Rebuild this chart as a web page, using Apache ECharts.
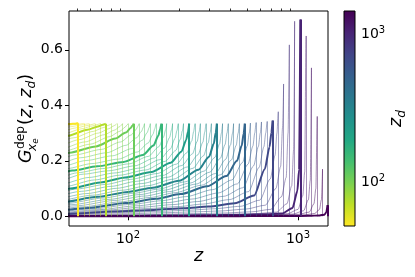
<!DOCTYPE html>
<html><head><meta charset="utf-8">
<script src="https://cdn.jsdelivr.net/npm/echarts@6/dist/echarts.min.js"></script>
<style>html,body{margin:0;padding:0;background:#fff}#c{width:415px;height:277px}</style>
</head><body><div id="c"></div>
<script>
// z_d of each curve (read from the positions of the vertical drops)
const zdValues = [51, 55, 59, 64, 69, 74, 80, 86, 93, 100, 108, 116, 125, 135, 146, 157, 169, 183, 197, 212,
  229, 247, 266, 287, 309, 333, 360, 388, 418, 451, 486, 524, 565, 609, 656, 708, 763, 823, 887, 956,
  1031, 1111, 1198, 1292, 1393, 1490];
// z / z_d at which each curve value is given
const ratioColumns = [0.025, 0.06, 0.12, 0.2, 0.3, 0.42, 0.6, 0.78, 0.9, 0.96, 0.985, 1.0];
// G values, one row per curve, one column per ratio (last column = peak at z = z_d)
const gRows = [
  [0.06, 0.10, 0.16, 0.22, 0.27, 0.30, 0.322, 0.331, 0.333, 0.334, 0.335, 0.335],
  [0.056, 0.094, 0.152, 0.21, 0.259, 0.29, 0.316, 0.327, 0.331, 0.333, 0.334, 0.335],
  [0.052, 0.088, 0.144, 0.2, 0.248, 0.28, 0.309, 0.323, 0.329, 0.332, 0.333, 0.334],
  [0.048, 0.082, 0.136, 0.19, 0.237, 0.27, 0.302, 0.319, 0.327, 0.331, 0.333, 0.334],
  [0.045, 0.076, 0.128, 0.18, 0.226, 0.26, 0.296, 0.316, 0.326, 0.331, 0.333, 0.334],
  [0.042, 0.07, 0.12, 0.17, 0.215, 0.255, 0.29, 0.312, 0.324, 0.33, 0.332, 0.334],
  [0.039, 0.066, 0.114, 0.163, 0.208, 0.25, 0.283, 0.306, 0.32, 0.328, 0.331, 0.334],
  [0.037, 0.062, 0.108, 0.156, 0.201, 0.245, 0.276, 0.3, 0.316, 0.326, 0.33, 0.334],
  [0.035, 0.058, 0.102, 0.149, 0.194, 0.24, 0.268, 0.294, 0.311, 0.323, 0.329, 0.334],
  [0.032, 0.054, 0.096, 0.142, 0.187, 0.235, 0.26, 0.287, 0.307, 0.321, 0.328, 0.334],
  [0.03, 0.05, 0.09, 0.135, 0.18, 0.229, 0.252, 0.28, 0.302, 0.318, 0.327, 0.334],
  [0.028, 0.046, 0.088, 0.14, 0.19, 0.221, 0.241, 0.268, 0.293, 0.312, 0.324, 0.334],
  [0.025, 0.042, 0.085, 0.142, 0.186, 0.211, 0.229, 0.256, 0.283, 0.306, 0.321, 0.334],
  [0.023, 0.038, 0.08, 0.14, 0.179, 0.201, 0.218, 0.244, 0.274, 0.301, 0.319, 0.334],
  [0.02, 0.034, 0.075, 0.135, 0.172, 0.19, 0.206, 0.232, 0.264, 0.295, 0.316, 0.334],
  [0.018, 0.03, 0.07, 0.13, 0.165, 0.18, 0.196, 0.221, 0.255, 0.29, 0.314, 0.334],
  [0.017, 0.028, 0.066, 0.124, 0.157, 0.172, 0.189, 0.216, 0.251, 0.287, 0.312, 0.334],
  [0.016, 0.027, 0.064, 0.122, 0.152, 0.164, 0.182, 0.21, 0.247, 0.284, 0.311, 0.334],
  [0.015, 0.026, 0.062, 0.114, 0.14, 0.156, 0.174, 0.204, 0.242, 0.281, 0.309, 0.334],
  [0.015, 0.026, 0.061, 0.107, 0.131, 0.148, 0.167, 0.198, 0.237, 0.278, 0.308, 0.334],
  [0.014, 0.025, 0.06, 0.1, 0.122, 0.14, 0.16, 0.193, 0.233, 0.275, 0.306, 0.334],
  [0.013, 0.024, 0.06, 0.098, 0.115, 0.133, 0.154, 0.188, 0.229, 0.272, 0.305, 0.334],
  [0.012, 0.023, 0.062, 0.09, 0.108, 0.126, 0.147, 0.183, 0.225, 0.27, 0.304, 0.334],
  [0.011, 0.022, 0.058, 0.082, 0.101, 0.118, 0.141, 0.178, 0.222, 0.267, 0.303, 0.334],
  [0.01, 0.02, 0.054, 0.076, 0.094, 0.11, 0.134, 0.173, 0.218, 0.265, 0.302, 0.334],
  [0.009, 0.018, 0.05, 0.07, 0.088, 0.103, 0.128, 0.168, 0.215, 0.262, 0.301, 0.334],
  [0.008, 0.017, 0.046, 0.066, 0.083, 0.098, 0.124, 0.163, 0.212, 0.261, 0.3, 0.334],
  [0.0075, 0.016, 0.042, 0.061, 0.078, 0.094, 0.12, 0.159, 0.209, 0.259, 0.3, 0.334],
  [0.007, 0.015, 0.038, 0.057, 0.073, 0.089, 0.116, 0.154, 0.206, 0.258, 0.299, 0.334],
  [0.0065, 0.013, 0.034, 0.052, 0.068, 0.085, 0.112, 0.15, 0.203, 0.256, 0.299, 0.334],
  [0.006, 0.012, 0.03, 0.048, 0.063, 0.08, 0.108, 0.145, 0.2, 0.255, 0.298, 0.334],
  [0.0055, 0.011, 0.027, 0.043, 0.056, 0.071, 0.096, 0.131, 0.194, 0.254, 0.299, 0.336],
  [0.005, 0.01, 0.024, 0.038, 0.049, 0.062, 0.084, 0.117, 0.188, 0.253, 0.3, 0.338],
  [0.0048, 0.0095, 0.022, 0.033, 0.042, 0.053, 0.072, 0.103, 0.182, 0.252, 0.3, 0.34],
  [0.0045, 0.009, 0.019, 0.028, 0.035, 0.044, 0.06, 0.089, 0.176, 0.251, 0.301, 0.342],
  [0.004, 0.008, 0.017, 0.023, 0.029, 0.035, 0.047, 0.075, 0.17, 0.25, 0.302, 0.345],
  [0.003, 0.006, 0.013, 0.018, 0.022, 0.027, 0.036, 0.058, 0.135, 0.22, 0.3, 0.377],
  [0.002, 0.004, 0.009, 0.013, 0.016, 0.019, 0.026, 0.04, 0.1, 0.18, 0.32, 0.477],
  [0.0015, 0.003, 0.005, 0.008, 0.01, 0.012, 0.016, 0.025, 0.07, 0.14, 0.3, 0.618],
  [0.001, 0.002, 0.003, 0.005, 0.006, 0.008, 0.01, 0.015, 0.045, 0.11, 0.24, 0.703],
  [0.0006, 0.001, 0.002, 0.003, 0.004, 0.005, 0.007, 0.01, 0.03, 0.09, 0.17, 0.709],
  [0.0005, 0.0008, 0.0015, 0.0025, 0.0035, 0.0045, 0.006, 0.009, 0.025, 0.075, 0.16, 0.65],
  [0.0004, 0.0006, 0.0012, 0.002, 0.003, 0.004, 0.005, 0.008, 0.02, 0.06, 0.13, 0.535],
  [0.0003, 0.0005, 0.001, 0.0015, 0.0025, 0.0035, 0.0045, 0.007, 0.015, 0.045, 0.1, 0.36],
  [0.0002, 0.0003, 0.0007, 0.001, 0.0015, 0.002, 0.003, 0.005, 0.01, 0.025, 0.06, 0.17],
  [0.0001, 0.0002, 0.0003, 0.0004, 0.0005, 0.0007, 0.001, 0.0018, 0.003, 0.006, 0.015, 0.04]
];
const xMajorTicks = [100, 1000];
const xMinorTicks = [50, 60, 70, 80, 90, 200, 300, 400, 500, 600, 700, 800, 900];
const yTicks = [0, 0.2, 0.4, 0.6];
const cbarTicks = [100, 1000];
const cbarRange = [50.4, 1429];
const xRange = [45, 1500];
const yRange = [-0.035, 0.74];

const viridis = ['#440154','#482475','#414487','#355f8d','#2a788e','#21918c','#22a884','#44bf70','#7ad151','#bddf26','#fde725'];
function hex2rgb(h){return [parseInt(h.slice(1,3),16),parseInt(h.slice(3,5),16),parseInt(h.slice(5,7),16)];}
function viridisAt(t){
  t = Math.max(0, Math.min(1, t));
  const p = t * (viridis.length - 1), k = Math.min(Math.floor(p), viridis.length - 2), f = p - k;
  const a = hex2rgb(viridis[k]), b = hex2rgb(viridis[k+1]);
  return 'rgb(' + a.map((v,j)=>Math.round(v + (b[j]-v)*f)).join(',') + ')';
}
function colorFor(zd){
  const t = (Math.log10(zd) - Math.log10(cbarRange[0])) / (Math.log10(cbarRange[1]) - Math.log10(cbarRange[0]));
  return viridisAt(1 - t);
}

const FAM = 'DejaVu Sans';
const TICK_FS = 14;
const supRich = {
  b: {fontSize: TICK_FS, fontFamily: FAM, color: '#000', lineHeight: 18},
  s: {fontSize: 10, fontFamily: FAM, color: '#000', lineHeight: 10, verticalAlign: 'top'}
};
const powFmt = v => '{b|10}{s|' + Math.round(Math.log10(v)) + '}';

const curveSeries = zdValues.map((zd, i) => {
  const row = gRows[i];
  const pts = ratioColumns.map((r, j) => [zd * r, row[j]]);
  const peak = row[row.length - 1];
  const thick = i % 5 === 0;
  const ls = {color: colorFor(zd), width: thick ? 2 : 0.8, opacity: thick ? 1 : 0.6, type: 'solid'};
  return {
    type: 'line', xAxisIndex: 0, yAxisIndex: 0, data: pts,
    symbol: 'none', showSymbol: false, silent: true, animation: false, clip: true,
    smooth: 0.25, smoothMonotone: 'x',
    lineStyle: ls, z: 2,
    markLine: {silent: true, animation: false, symbol: ['none', 'none'], label: {show: false},
      lineStyle: ls, emphasis: {disabled: true},
      data: [[{coord: [zd, peak]}, {coord: [zd, 0]}]]}
  };
});

const cbarSeries = {
  type: 'custom', xAxisIndex: 2, yAxisIndex: 1, silent: true, animation: false,
  data: [[0, cbarRange[0], 1, cbarRange[1]]],
  renderItem: (params, api) => {
    const p0 = api.coord([api.value(0), api.value(3)]);
    const p1 = api.coord([api.value(2), api.value(1)]);
    return {type: 'rect', shape: {x: p0[0], y: p0[1], width: p1[0]-p0[0], height: p1[1]-p0[1]},
      style: {fill: new echarts.graphic.LinearGradient(0, 0, 0, 1,
        viridis.map((c, k) => ({offset: k/(viridis.length-1), color: c})))}};
  }
};

// math-style labels
const FS = 17.5;
const ctx = document.createElement('canvas').getContext('2d');
function tw(t, size, italic){ ctx.font = (italic ? 'italic ' : '') + size + 'px "' + FAM + '"'; return ctx.measureText(t).width; }
function txt(t, size, italic, x, base, align){
  return {type: 'text', x: x, y: base - 0.3*size,
    style: {text: t, fontSize: size, fontFamily: FAM, fontStyle: italic ? 'italic' : 'normal',
      fill: '#000', align: align || 'left', verticalAlign: 'middle'}};
}
// y label: G^{dep}_{x_e}(z, z_d)
const ylKids = [];
let cx = 0;
const ss = FS*0.7, sss = FS*0.5;
ylKids.push(txt('G', FS, true, cx, 0)); cx += tw('G', FS, true);
const supX = cx + 0.5, subX = cx - 1.5;
ylKids.push(txt('dep', ss, false, supX, -0.42*FS));
ylKids.push(txt('x', ss, true, subX, 0.28*FS));
ylKids.push(txt('e', sss, true, subX + tw('x', ss, true), 0.40*FS));
cx = Math.max(supX + tw('dep', ss, false), subX + tw('x', ss, true) + tw('e', sss, true)) + 1;
ylKids.push(txt('(', FS, false, cx, 0)); cx += tw('(', FS, false);
ylKids.push(txt('z', FS, true, cx, 0)); cx += tw('z', FS, true);
ylKids.push(txt(', ', FS, false, cx, 0)); cx += tw(', ', FS, false);
ylKids.push(txt('z', FS, true, cx, 0)); cx += tw('z', FS, true);
ylKids.push(txt('d', ss, true, cx, 0.22*FS)); cx += tw('d', ss, true);
ylKids.push(txt(')', FS, false, cx, 0)); cx += tw(')', FS, false);
const ylW = cx;
// colorbar label z_d
const cbKids = [txt('z', FS, true, 0, 0), txt('d', ss, true, tw('z', FS, true), 0.22*FS)];
const cbW = tw('z', FS, true) + tw('d', ss, true);

const chart = echarts.init(document.getElementById('c'), null, {renderer: 'canvas'});
chart.setOption({
  animation: false,
  backgroundColor: '#fff',
  grid: [
    {left: 69, top: 11, width: 259, height: 215, show: true, borderColor: '#000', borderWidth: 1, backgroundColor: 'transparent', z: 5},
    {left: 344, top: 11, width: 11, height: 215, show: true, borderColor: '#000', borderWidth: 1, backgroundColor: 'transparent', z: 5}
  ],
  xAxis: [
    {gridIndex: 0, type: 'log', logBase: 10, min: xRange[0], max: xRange[1],
      axisLine: {show: false}, splitLine: {show: false},
      axisTick: {show: true, customValues: xMajorTicks, length: 4, lineStyle: {color: '#000', width: 1}},
      axisLabel: {show: true, customValues: xMajorTicks, formatter: powFmt, rich: supRich, margin: 4}},
    {gridIndex: 0, type: 'log', logBase: 10, min: xRange[0], max: xRange[1],
      axisLine: {show: false}, splitLine: {show: false},
      axisTick: {show: true, customValues: xMinorTicks, length: 2.5, lineStyle: {color: '#000', width: 0.8}},
      axisLabel: {show: false}},
    {gridIndex: 1, type: 'value', min: 0, max: 1, show: false}
  ],
  yAxis: [
    {gridIndex: 0, type: 'value', min: yRange[0], max: yRange[1],
      axisLine: {show: false}, splitLine: {show: false},
      axisTick: {show: true, customValues: yTicks, length: 4, lineStyle: {color: '#000', width: 1}},
      axisLabel: {show: true, customValues: yTicks, formatter: v => v.toFixed(1), margin: 6,
        fontSize: TICK_FS, fontFamily: FAM, color: '#000'}},
    {gridIndex: 1, type: 'log', logBase: 10, min: cbarRange[0], max: cbarRange[1], position: 'right',
      axisLine: {show: false}, splitLine: {show: false},
      axisTick: {show: true, customValues: cbarTicks, length: 4, lineStyle: {color: '#000', width: 1}},
      axisLabel: {show: true, customValues: cbarTicks, formatter: powFmt, rich: supRich, margin: 6}}
  ],
  graphic: [
    {type: 'group', x: 31.5, y: 118.5 + ylW/2, rotation: Math.PI/2, children: ylKids},
    {type: 'group', x: 402, y: 118.5 + cbW/2, rotation: Math.PI/2, children: cbKids},
    txt('z', FS, true, 198.5, 261.8, 'center')
  ],
  series: curveSeries.concat([cbarSeries])
});
</script>
</body></html>
